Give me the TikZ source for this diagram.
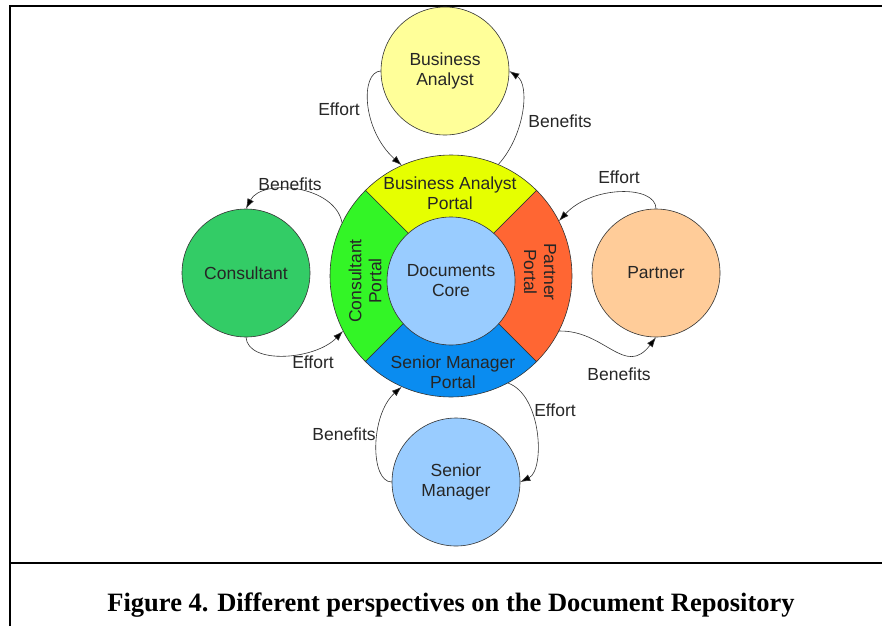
\documentclass[tikz,border=0pt]{standalone}
\usepackage{fontspec}
\setmainfont{Liberation Sans}
\newfontfamily\captionfont{Liberation Serif}
\usetikzlibrary{arrows.meta}
\definecolor{analystfill}{HTML}{FFFF99}
\definecolor{consultantfill}{HTML}{33CC66}
\definecolor{partnerfill}{HTML}{FFCC99}
\definecolor{managerfill}{HTML}{99CCFF}
\definecolor{corefill}{HTML}{99CCFF}
\definecolor{portalyellow}{HTML}{E6FF00}
\definecolor{portalgreen}{HTML}{33F526}
\definecolor{portalorange}{HTML}{FF6633}
\definecolor{portalblue}{HTML}{0A8CF0}
\tikzstyle{actor} = [circle, minimum size=128pt, inner sep=0pt, draw=black!80, line width=0.6pt, text=black!85, align=center, font=\fontsize{17.5}{20}\selectfont]
\tikzstyle{portal} = [inner sep=0pt, text=black!85, align=center, font=\fontsize{17.5}{20}\selectfont]
\tikzstyle{wedge} = [draw=black!80, line width=0.6pt]
\tikzstyle{lbl} = [inner sep=0pt, text=black!85, font=\fontsize{17.5}{20}\selectfont]
\tikzstyle{flow} = [line width=0.6pt, draw=black!80, -{Latex[length=10pt,width=7pt,fill=black]}]

\begin{document}
\begin{tikzpicture}[x=1pt, y=1pt]
\useasboundingbox (0,0) rectangle (882,-626);
% frame and caption
\draw[line width=2pt] (10,-626) -- (10,-6) -- (882,-6);
\draw[line width=2pt] (10,-563) -- (882,-563);
\node (caption) at (451,-605) {\captionfont\bfseries\fontsize{26.5}{30}\selectfont Figure 4. Different perspectives on the Document Repository};
% portal ring
\foreach \a/\col in {45/portalyellow, 135/portalgreen, 225/portalblue, 315/portalorange}
  \filldraw[wedge, fill=\col] (451,-276) -- ++(\a:121) arc[start angle=\a, delta angle=90, radius=121] -- cycle;
\node[circle, minimum size=242pt, inner sep=0pt] (hub) at (451,-276) {};
\node[actor, fill=corefill] (core) at (451,-281) {Documents\\Core};
\node[portal] (baportal) at (450,-193) {Business Analyst\\Portal};
\node[portal, rotate=90] (conportal) at (365,-281) {Consultant\\Portal};
\node[portal, rotate=-90] (parportal) at (540,-272) {Partner\\Portal};
\node[portal] (smportal) at (453,-372) {Senior Manager\\Portal};
% actors
\node[actor, fill=analystfill] (ba) at (445,-71) {Business\\Analyst};
\node[actor, fill=consultantfill] (con) at (246,-273) {Consultant};
\node[actor, fill=partnerfill] (par) at (656,-273) {Partner};
\node[actor, fill=managerfill] (sm) at (456,-482) {Senior\\Manager};
% effort and benefits
\draw[flow] (ba.west) .. controls (360,-72) and (362,-130) .. (hub.114);
\draw[flow] (hub.67) .. controls (525,-135) and (530,-85) .. (ba.east);
\draw[flow] (hub.154) .. controls (335,-185) and (262,-178) .. (con.north);
\draw[flow] (con.south) .. controls (248,-365) and (315,-360) .. (hub.207);
\draw[flow] (par.north) .. controls (656,-185) and (592,-185) .. (hub.27);
\draw[flow] (hub.-27) .. controls (605,-330) and (625,-378) .. (par.south);
\draw[flow] (hub.-62) .. controls (542,-395) and (545,-470) .. (sm.east);
\draw[flow] (sm.west) .. controls (370,-482) and (370,-415) .. (hub.-114);
\node[lbl] (baeffort) at (339,-109) {Effort};
\node[lbl] (babenefits) at (560,-121) {Benefits};
\node[lbl] (conbenefits) at (290,-184) {Benefits};
\node[lbl] (coneffort) at (313,-362) {Effort};
\node[lbl] (pareffort) at (619,-177) {Effort};
\node[lbl] (parbenefits) at (619,-374) {Benefits};
\node[lbl] (smeffort) at (555,-410) {Effort};
\node[lbl] (smbenefits) at (344,-434) {Benefits};
\end{tikzpicture}
\end{document}
